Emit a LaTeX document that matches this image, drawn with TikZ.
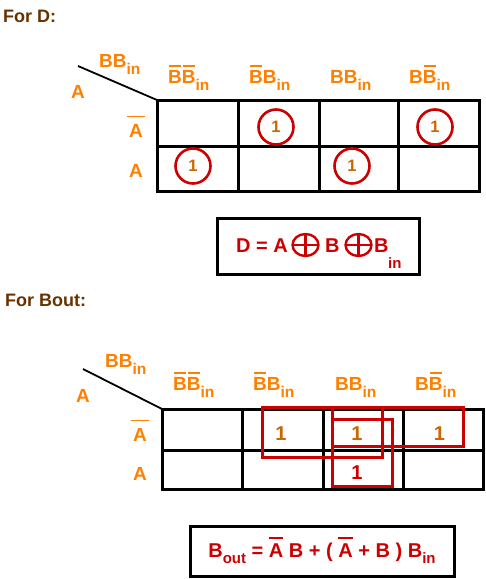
\documentclass[tikz,border=0pt]{standalone}
\usepackage{fontspec}
\setmainfont{Liberation Sans}
\usetikzlibrary{shapes.geometric}
\definecolor{lbl}{HTML}{FF8000}
\definecolor{onec}{HTML}{CC6600}
\definecolor{kred}{HTML}{CC0000}
\definecolor{ttlc}{HTML}{663300}
% subscript: size, lowering, text
\newcommand\sbx[3]{\raisebox{-#2}{\fontsize{#1}{#1}\selectfont #3}}
\newcommand\sbs[1]{\sbx{15.5}{7.5pt}{#1}}
% overbar: gap, extra width, text
\newcommand\ovx[3]{{\setbox0=\hbox{#3}\rlap{\raise\dimexpr\ht0+#1\relax\hbox{\makebox[\wd0]{\rule{\dimexpr\wd0+#2\relax}{1.8pt}}}}\box0}}
\newcommand\ob[1]{\ovx{3.3pt}{-2pt}{#1}}
\newcommand\oa[1]{\ovx{6.5pt}{4pt}{#1}}
\begin{document}
\begin{tikzpicture}[x=1pt,y=-1pt,
  lab/.style={text=lbl,font=\fontsize{19}{19}\selectfont\bfseries,anchor=base west,inner sep=0},
  ttl/.style={text=ttlc,font=\fontsize{18}{18}\selectfont\bfseries,anchor=base west,inner sep=0},
  gridln/.style={line width=3pt},
  diag/.style={line width=1.8pt},
  ring/.style={draw=kred,line width=2.6pt,circle,minimum size=35pt,inner sep=0,
    text=onec,font=\fontsize{16.5}{16.5}\selectfont\bfseries},
  onebig/.style={text=onec,font=\fontsize{20}{20}\selectfont\bfseries,inner sep=0},
  grp/.style={draw=kred,line width=3pt},
  fbox/.style={draw=black,line width=3pt,inner sep=0},
  ftxt/.style={text=kred,font=\fontsize{20}{20}\selectfont\bfseries,inner sep=0,anchor=base west},
  xorsym/.style={ellipse,draw=kred,line width=2.4pt,minimum width=26pt,minimum height=22pt,inner sep=0,
    path picture={\draw[kred,line width=2.4pt]
      (path picture bounding box.west) -- (path picture bounding box.east)
      (path picture bounding box.north) -- (path picture bounding box.south);}}
]
\useasboundingbox (0,0) rectangle (486,579);

% ---------- For D ----------
\node[ttl] (t1) at (3,22) {For D:};
\node[lab] (h1) at (99,67) {BB\sbs{in}};
\node[lab] (ha) at (71,98) {A};
\coordinate (dA) at (78,66);
\coordinate (dB) at (157,100);
\draw[diag] (dA) -- (dB);

\node[lab] (c1) at (168,83) {\ob{B}\ob{B}\sbs{in}};
\node[lab] (c2) at (249,83) {\ob{B}B\sbs{in}};
\node[lab] (c3) at (330,83) {BB\sbs{in}};
\node[lab] (c4) at (409,83) {B\ob{B}\sbs{in}};
\node[lab] (r1) at (129,137) {\oa{A}};
\node[lab] (r2) at (129,177) {A};

\draw[gridln] (157,100) rectangle (479,191);
\draw[gridln] (157,146) -- (479,146);
\draw[gridln] (238,100) -- (238,191) (319,100) -- (319,191) (398,100) -- (398,191);

\node[ring] (o1) at (276,127) {1};
\node[ring] (o2) at (435,127) {1};
\node[ring] (o3) at (193,166) {1};
\node[ring] (o4) at (352,166) {1};

\node[fbox,minimum width=202pt,minimum height=56pt] (fd) at (318,246) {};
\node[ftxt] (fd1) at (236,252) {D = A};
\node[xorsym] (x1) at (305.5,245) {};
\node[ftxt] (fd2) at (325,252) {B};
\node[xorsym] (x2) at (358.5,245) {};
\node[ftxt] (fd3) at (374,252) {B};
\node[ftxt,font=\fontsize{15}{15}\selectfont\bfseries] (fd4) at (388,268) {in};

% ---------- For Bout ----------
\node[ttl] (t2) at (5,306) {For Bout:};
\node[lab] (h2) at (105,367) {BB\sbs{in}};
\node[lab] (hb) at (76,402) {A};
\coordinate (eA) at (83,369);
\coordinate (eB) at (162,409);
\draw[diag] (eA) -- (eB);

\node[lab] (d1) at (173,390) {\ob{B}\ob{B}\sbs{in}};
\node[lab] (d2) at (253,390) {\ob{B}B\sbs{in}};
\node[lab] (d3) at (335,390) {BB\sbs{in}};
\node[lab] (d4) at (415,390) {B\ob{B}\sbs{in}};
\node[lab] (s1) at (133,441) {\oa{A}};
\node[lab] (s2) at (133,480) {A};

\draw[gridln] (162,409) rectangle (483,489);
\draw[gridln] (162,450) -- (483,450);
\draw[gridln] (242,409) -- (242,489) (323,409) -- (323,489) (403,409) -- (403,489);

\node[onebig] (n1) at (281,434) {1};
\node[onebig] (n2) at (357,434) {1};
\node[onebig] (n3) at (439.5,434) {1};
\node[onebig,text=kred] (n4) at (357,473) {1};

\draw[grp] (262,407) rectangle (382,457);
\draw[grp] (332,407) rectangle (463,446);
\draw[grp] (332,419) rectangle (392,486);

\node[fbox,minimum width=264pt,minimum height=50pt] (fb) at (322,551) {};
\node[ftxt,anchor=base] (fbt) at (322,557)
  {B\sbx{15}{6pt}{out} = \ovx{4pt}{0pt}{A} B + ( \ovx{4pt}{0pt}{A} + B ) B\sbx{15}{6pt}{in}};
\end{tikzpicture}
\end{document}
